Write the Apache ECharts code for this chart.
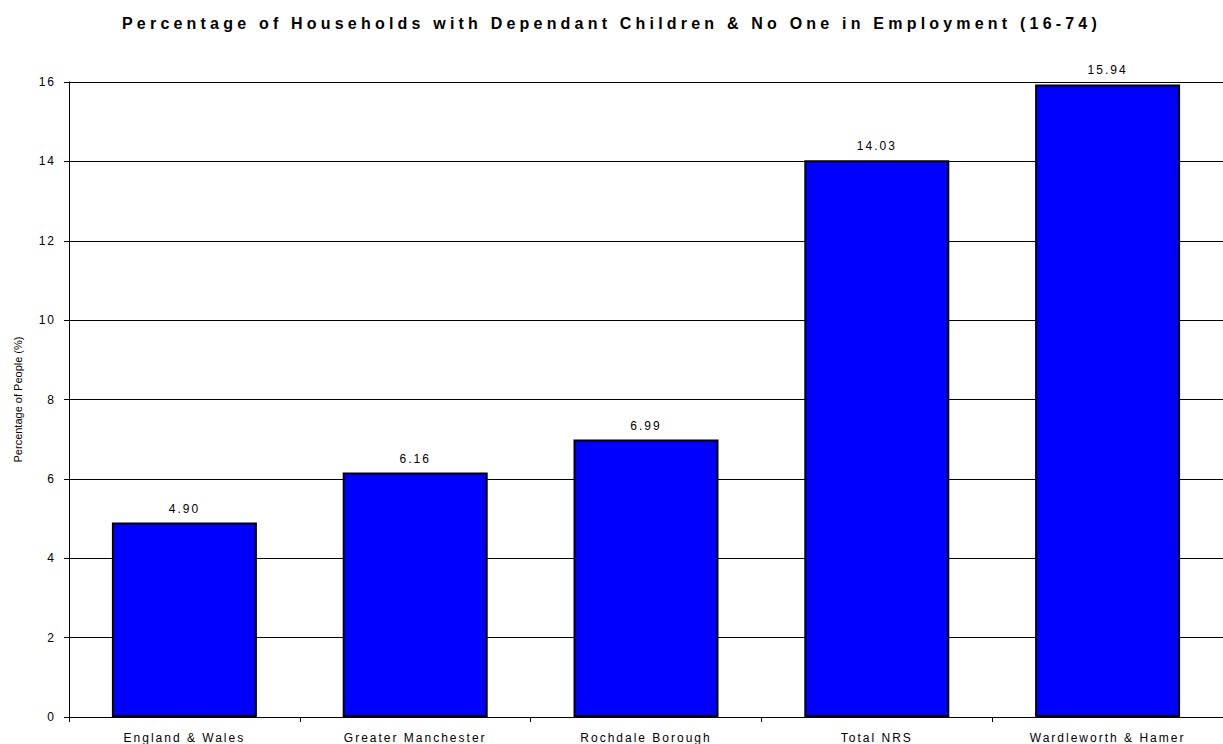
<!DOCTYPE html>
<html><head><meta charset="utf-8">
<script src="https://cdn.jsdelivr.net/npm/echarts@6/dist/echarts.min.js"></script>
<style>
html,body{margin:0;padding:0;background:#fff}
#c{width:1223px;height:744px}
#c svg text{letter-spacing:2px}
#c svg text[style*="bold"]{letter-spacing:4.2px}
#c svg text[style*="11px"]{letter-spacing:0}
</style>
</head><body><div id="c"></div>
<script>
const categories = ['England & Wales', 'Greater Manchester', 'Rochdale Borough', 'Total NRS', 'Wardleworth & Hamer'];
const values = [4.90, 6.16, 6.99, 14.03, 15.94];
const yTicks = [0, 2, 4, 6, 8, 10, 12, 14, 16];
const titleText = 'Percentage of Households with Dependant Children & No One in Employment (16-74)';
const yName = 'Percentage of People (%)';

const chart = echarts.init(document.getElementById('c'), null, {renderer: 'svg'});
chart.setOption({
  animation: false,
  backgroundColor: '#fff',
  title: {
    text: titleText, left: 'center', top: 10,
    textStyle: {fontFamily: 'Liberation Sans, Arial', fontSize: 16, fontWeight: 'bold', color: '#000'}
  },
  grid: {left: 69, right: -2, top: 82, bottom: 27, containLabel: false},
  xAxis: {
    type: 'category', data: categories,
    axisLine: {lineStyle: {color: '#000', width: 1}},
    axisTick: {show: true, alignWithLabel: false, length: 5, lineStyle: {color: '#000'}},
    axisLabel: {fontFamily: 'Liberation Sans, Arial', fontSize: 12, color: '#000', margin: 15}
  },
  yAxis: {
    type: 'value', min: yTicks[0], max: yTicks[yTicks.length - 1], interval: 2,
    name: yName, nameLocation: 'middle', nameGap: 46, nameRotate: 90,
    nameTextStyle: {fontFamily: 'Liberation Sans, Arial', fontSize: 11, color: '#000'},
    axisLine: {show: true, lineStyle: {color: '#000', width: 1}},
    axisTick: {show: true, length: 5, lineStyle: {color: '#000'}},
    axisLabel: {fontFamily: 'Liberation Sans, Arial', fontSize: 12, color: '#000', margin: 13},
    splitLine: {show: true, lineStyle: {color: '#000', width: 1}}
  },
  series: [{
    type: 'bar', data: values, barWidth: 145,
    itemStyle: {color: '#0000FF', borderColor: '#000', borderWidth: 2},
    label: {
      show: true, position: 'top', distance: 8,
      formatter: p => p.value.toFixed(2),
      fontFamily: 'Liberation Sans, Arial', fontSize: 12, color: '#000'
    }
  }]
});
</script></body></html>
